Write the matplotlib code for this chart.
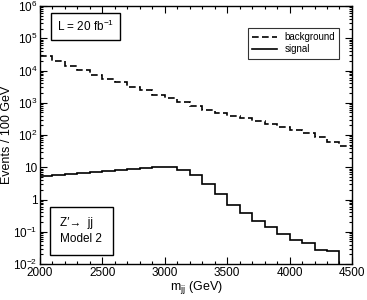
import numpy as np
import matplotlib
matplotlib.use('Agg')
import matplotlib.pyplot as plt
from matplotlib.ticker import FixedLocator, FixedFormatter, MultipleLocator, LogLocator, NullFormatter

### Data ###

# bin edges in m_jj (GeV), 100 GeV bins
bkg_edges = np.arange(2000, 4501, 100)
sig_edges = np.arange(2000, 4401, 100)

# events per 100 GeV
background = [27700, 19400, 13800, 10100, 7400, 5430, 4280, 3150, 2420, 1780,
              1360, 1050, 805, 617, 487, 393, 341, 281, 227, 179,
              144, 113, 85, 62, 47]
signal = [5.2, 5.7, 6.1, 6.6, 7.1, 7.6, 8.2, 8.8, 9.4, 10.1,
          9.9, 8.2, 5.7, 3.1, 1.46, 0.68, 0.37, 0.21, 0.137, 0.083,
          0.054, 0.044, 0.027, 0.026]

y_ticks = [1e-2, 1e-1, 1, 10, 1e2, 1e3, 1e4, 1e5, 1e6]
y_labels = ['$10^{-2}$', '$10^{-1}$', '1', '10', '$10^{2}$', '$10^{3}$',
            '$10^{4}$', '$10^{5}$', '$10^{6}$']

### Style ###

plt.rcParams['font.family'] = ['Liberation Sans', 'DejaVu Sans']
plt.rcParams['mathtext.default'] = 'regular'

fig = plt.figure(figsize=(3.67, 3.0), dpi=100)
ax = fig.add_axes([0.109, 0.12, 0.850, 0.86])

# histograms
ax.stairs(background, bkg_edges, baseline=None, color='black',
          linestyle=(0, (4, 2)), linewidth=1.2, label='background')
ax.stairs(signal, sig_edges, baseline=1e-3, color='black',
          linewidth=1.2, label='signal')

ax.set_yscale('log')
ax.set_xlim(2000, 4500)
ax.set_ylim(1e-2, 1e6)

# ticks
ax.xaxis.set_major_locator(MultipleLocator(500))
ax.xaxis.set_minor_locator(MultipleLocator(100))
ax.yaxis.set_major_locator(FixedLocator(y_ticks))
ax.yaxis.set_major_formatter(FixedFormatter(y_labels))
ax.yaxis.set_minor_locator(LogLocator(base=10, subs=np.arange(2, 10), numticks=20))
ax.yaxis.set_minor_formatter(NullFormatter())
ax.tick_params(which='both', direction='in', top=True, right=True,
               labelsize=8.5, width=0.8, pad=2)
ax.tick_params(which='major', length=5)
ax.tick_params(which='minor', length=2.5)
for s in ax.spines.values():
    s.set_linewidth(1.0)

ax.set_xlabel('m$_{jj}$ (GeV)', fontsize=9, labelpad=0)
ax.set_ylabel('Events / 100 GeV', fontsize=9, labelpad=0)

# text boxes
box = dict(boxstyle='square,pad=0.5', facecolor='white', edgecolor='black', linewidth=1.0)
ax.text(0.055, 0.92, 'L = 20 fb$^{-1}$', transform=ax.transAxes, fontsize=8.5,
        va='center', ha='left', bbox=box)
ax.text(0.065, 0.128, 'Z\u2032\u2192  jj\nModel 2', transform=ax.transAxes, fontsize=8.5,
        va='center', ha='left', linespacing=1.35,
        bbox=dict(boxstyle='square,pad=0.9', facecolor='white', edgecolor='black', linewidth=1.0))

leg = ax.legend(loc='upper right', bbox_to_anchor=(0.975, 0.935), fontsize=7,
                frameon=True, fancybox=False, handlelength=2.5, borderpad=0.45,
                labelspacing=0.25, handletextpad=0.8)
leg.get_frame().set_edgecolor('black')
leg.get_frame().set_linewidth(0.8)

fig.savefig('out.png', dpi=100)
